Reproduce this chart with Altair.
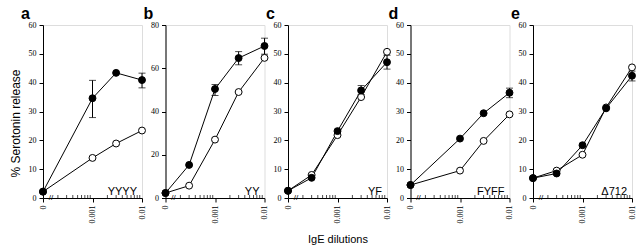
import math
import altair as alt
import pandas as pd

# ---------------- data ----------------
panel_ids = ["a", "b", "c", "d", "e"]
panel_names = ["YYYY", "YY", "YF", "FYFF", "\u0394712"]
y_max = [60, 80, 60, 60, 60]
y_step = [10, 20, 10, 10, 10]

dil_a = [0, 0.001, 0.003, 0.01]
filled_a = [2.2, 34.6, 43.4, 40.9]
open_a = [2.2, 13.9, 18.9, 23.4]
errx_a = [0.001, 0.01]
errlo_a = [27.9, 38.2]
errhi_a = [40.8, 43.3]

dil_b = [0, 0.0003, 0.001, 0.003, 0.01]
filled_b = [2.3, 15.3, 50.4, 64.7, 70.3]
open_b = [2.3, 5.7, 27.0, 49.0, 64.8]
errx_b = [0.001, 0.003, 0.01]
errlo_b = [47.4, 61.6, 66.5]
errhi_b = [52.5, 67.7, 73.9]

dil_c = [0, 0.0003, 0.001, 0.003, 0.01]
filled_c = [2.5, 7.0, 23.2, 37.3, 47.1]
open_c = [2.5, 8.0, 21.8, 35.0, 50.7]
errx_c = [0.003, 0.01]
errlo_c = [35.9, 44.7]
errhi_c = [39.0, 49.5]

dil_d = [0, 0.001, 0.003, 0.01]
filled_d = [4.5, 20.6, 29.4, 36.5]
open_d = [4.5, 9.5, 19.8, 29.0]
errx_d = [0.01]
errlo_d = [34.8]
errhi_d = [38.1]

dil_e = [0, 0.0003, 0.001, 0.003, 0.01]
filled_e = [6.9, 8.5, 18.3, 31.1, 42.4]
open_e = [6.9, 9.5, 15.0, 31.4, 45.3]
errx_e = [0.01]
errlo_e = [40.6]
errhi_e = [44.0]

panels = [
    (dil_a, filled_a, open_a, errx_a, errlo_a, errhi_a),
    (dil_b, filled_b, open_b, errx_b, errlo_b, errhi_b),
    (dil_c, filled_c, open_c, errx_c, errlo_c, errhi_c),
    (dil_d, filled_d, open_d, errx_d, errlo_d, errhi_d),
    (dil_e, filled_e, open_e, errx_e, errlo_e, errhi_e),
]

major_ticks = [0, 0.001, 0.01]
minor_ticks = [k * 1e-4 for k in range(2, 10)] + [k * 1e-3 for k in range(2, 10)]
ZERO_POS = -4.0   # "0" is drawn one decade left of 0.001 (broken axis)
BREAK_POS = -3.84


def pos(v):
    return ZERO_POS if v == 0 else math.log10(v)


W, H = 99, 173
SERIF = "Liberation Serif"
SANS = "Liberation Sans"

label_expr = "datum.value < -3.5 ? '0' : (datum.value < -2.5 ? '0.001' : '0.01')"


def make_panel(i):
    dil, fil, opn, ex, elo, ehi = panels[i]
    rows = []
    for s, vals in (("open", opn), ("filled", fil)):
        for d, v in zip(dil, vals):
            rows.append({"pos": pos(d), "val": v, "series": s})
    df = pd.DataFrame(rows)
    err = pd.DataFrame({"pos": [pos(v) for v in ex], "lo": elo, "hi": ehi})
    caps = pd.DataFrame({"pos": [pos(v) for v in ex] * 2, "val": elo + ehi})
    brk_df = pd.DataFrame({"pos": [BREAK_POS], "val": [0], "t": ["//"]})
    minor_df = pd.DataFrame({"pos": [math.log10(v) for v in minor_ticks],
                             "val": [0] * len(minor_ticks)})
    name_df = pd.DataFrame({"t": [panel_names[i]]})
    id_df = pd.DataFrame({"t": [panel_ids[i]]})

    xscale = alt.Scale(domain=[ZERO_POS, -2.0], nice=False, zero=False)
    yscale = alt.Scale(domain=[0, y_max[i]], nice=False)
    yvals = list(range(0, y_max[i] + 1, y_step[i]))

    ykw = dict(
        values=yvals, grid=False, tickSize=4, labelPadding=3,
        labelFont=SERIF, labelFontSize=8, labelColor="black",
        domainColor="black", tickColor="black",
        minExtent=16, maxExtent=16, orient="left",
        titleFont=SANS, titleFontSize=12, titleFontWeight="normal",
        titleColor="black",
    )
    if i == 0:
        ykw.update(title="% Serotonin release", titleX=-28, titleY=98,
                   titleAlign="center", titleBaseline="middle", titleAngle=-90)
    else:
        ykw.update(title=None)
    yaxis = alt.Axis(**ykw)

    xaxis = alt.Axis(
        values=[pos(v) for v in major_ticks], labelExpr=label_expr,
        grid=False, tickSize=4, labelAngle=270, labelFont=SERIF,
        labelFontSize=8, labelColor="black", labelPadding=3,
        domainColor="black", tickColor="black", orient="bottom",
        title="IgE dilutions" if i == 2 else None,
        titleFont=SANS, titleFontSize=11, titleFontWeight="normal",
        titleColor="black", titlePadding=10,
    )

    x = alt.X("pos:Q", scale=xscale, axis=xaxis)
    y = alt.Y("val:Q", scale=yscale, axis=yaxis)

    minor = alt.Chart(minor_df).mark_tick(
        color="black", thickness=1, size=3, orient="vertical", yOffset=-1.5
    ).encode(x=x, y=y)
    lines = alt.Chart(df).mark_line(color="black", strokeWidth=1).encode(
        x=x, y=y, detail="series:N"
    )
    rules = alt.Chart(err).mark_rule(color="black", strokeWidth=1).encode(
        x=x, y=alt.Y("lo:Q", scale=yscale, axis=yaxis), y2="hi:Q"
    )
    capm = alt.Chart(caps).mark_tick(
        color="black", thickness=1, size=7, orient="horizontal"
    ).encode(x=x, y=y)
    pts = alt.Chart(df).mark_point(
        filled=True, shape="circle", size=48, stroke="black", strokeWidth=1,
        opacity=1,
    ).encode(
        x=x, y=y,
        fill=alt.Fill("series:N", scale=alt.Scale(domain=["filled", "open"],
                                                  range=["black", "white"]),
                      legend=None),
    )
    brk = alt.Chart(brk_df).mark_text(
        font=SANS, fontSize=8, color="black", baseline="middle", align="center"
    ).encode(x=x, y=y, text="t:N")
    name = alt.Chart(name_df).mark_text(
        font=SANS, fontSize=11, color="black", align="right", baseline="alphabetic"
    ).encode(x=alt.value(W - 5), y=alt.value(H - 3), text="t:N")
    pid = alt.Chart(id_df).mark_text(
        font=SANS, fontSize=16, fontWeight="bold", color="black",
        align="left", baseline="alphabetic"
    ).encode(x=alt.value(-22), y=alt.value(-6), text="t:N")

    layer = alt.layer(minor, lines, rules, capm, pts, brk, name, pid).properties(
        width=W, height=H,
    )
    return layer


panels_charts = []
for i in range(5):
    panels_charts.append(make_panel(i))

chart = alt.hconcat(*panels_charts, spacing=23.5, bounds="flush").properties(
    padding={"left": 8, "top": 5, "right": 5, "bottom": 5}
).configure_view(stroke="black", strokeWidth=1).configure(background="white")

chart.save("out.html", embed_options={"renderer": "svg", "actions": False})
